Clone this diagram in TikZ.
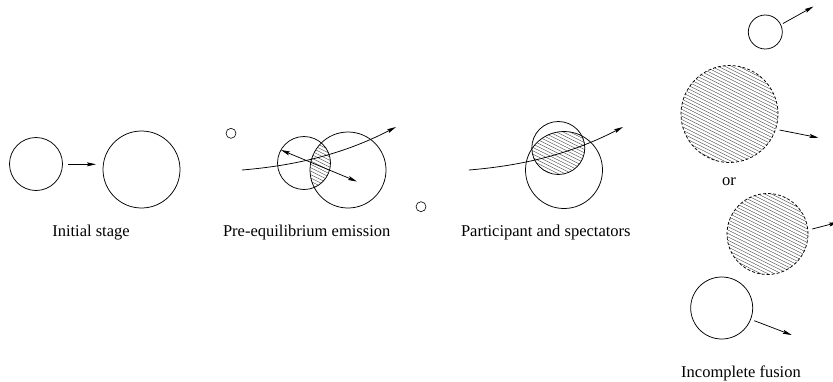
\documentclass[tikz,border=0pt]{standalone}
\usepackage{fontspec}
\setmainfont{Liberation Serif}
\usetikzlibrary{arrows.meta}
\tikzset{
  ring/.style={circle, draw, line width=0.75pt, inner sep=0pt, outer sep=0pt},
  dring/.style={circle, draw, line width=0.75pt, inner sep=0pt, outer sep=0pt, dash pattern=on 3pt off 2pt},
  arr/.style={line width=0.75pt, -{Stealth[length=9pt,width=4pt,inset=1.5pt]}},
  darr/.style={line width=0.75pt, {Stealth[length=9pt,width=4pt,inset=1.5pt]}-{Stealth[length=9pt,width=4pt,inset=1.5pt]}},
  hatchline/.style={line width=0.35pt, black!80},
  lbl/.style={font=\fontsize{16.5}{20}\selectfont, inner sep=0pt}
}
\newcommand{\hatchat}[3]{% cx, cy, R
  \foreach \c in {-110,-106.6,...,110}{
    \draw[hatchline] (#1-#3-10,{#2+\c-0.5*(#3+10)}) -- (#1+#3+10,{#2+\c+0.5*(#3+10)});
  }
}
\begin{document}
\begin{tikzpicture}[x=1pt,y=-1pt]
\useasboundingbox (0,0) rectangle (833,381);
\clip (0,0) rectangle (833,381);

% Stage 1
\node[ring, minimum size=53pt] (s1a) at (36,164) {};
\node[ring, minimum size=77pt] (s1b) at (141.5,169.5) {};
\coordinate (s1p) at (68,164.3);
\coordinate (s1q) at (96,164.3);
\draw[arr] (s1p) -- (s1q);
\node[lbl] (l1) at (91,233) {Initial stage};

% Stage 2
\begin{scope}
  \clip (304,163) circle (26.5);
  \clip (348,170) circle (38);
  \hatchat{326}{163}{30}
\end{scope}
\node[ring, minimum size=53pt] (s2a) at (304,163) {};
\node[ring, minimum size=76pt] (s2b) at (348,170) {};
\node[ring, minimum size=10pt, line width=0.6pt] (s2c) at (231,133.3) {};
\node[ring, minimum size=10pt, line width=0.6pt] (s2d) at (421,206.7) {};
\coordinate (t2s) at (242,170);
\coordinate (t2e) at (396,127);
\draw[arr] (t2s) .. controls (290,166) and (340,156) .. (t2e);
\coordinate (e2a) at (281,150);
\coordinate (e2b) at (357,181.5);
\draw[darr] (e2a) -- (e2b);
\node[lbl] (l2) at (306.7,233) {Pre-equilibrium emission};

% Stage 3
\begin{scope}
  \clip (558.3,148) circle (26.5);
  \clip (564,170) circle (38.5);
  \hatchat{560}{152}{30}
\end{scope}
\node[ring, minimum size=53pt] (s3a) at (558.3,148) {};
\node[ring, minimum size=77pt] (s3b) at (564,170) {};
\coordinate (t3s) at (469,170);
\coordinate (t3e) at (623,127);
\draw[arr] (t3s) .. controls (517,166) and (567,156) .. (t3e);
\node[lbl] (l3) at (545.8,233) {Participant and spectators};

% Stage 4
\node[ring, minimum size=34pt] (s4a) at (765.3,32) {};
\coordinate (a4a) at (813.5,6.5);
\draw[arr] (s4a.30) ++(3,0) coordinate (a4as) (a4as) -- (a4a);

\begin{scope}
  \clip (729.5,114) circle (48.5);
  \hatchat{729.5}{114}{50}
\end{scope}
\node[dring, minimum size=97pt] (s4b) at (729.5,114) {};
\coordinate (a4b) at (818.5,137.7);
\coordinate (a4bs) at (779.5,130);
\draw[arr] (a4bs) -- (a4b);

\node[lbl] (or) at (729,182) {or};

\begin{scope}
  \clip (767.5,234) circle (40.5);
  \hatchat{767.5}{234}{42}
\end{scope}
\node[dring, minimum size=81pt] (s4c) at (767.5,234) {};
\coordinate (a4cs) at (812.3,229);
\coordinate (a4c) at (838,222.3);
\draw[arr] (a4cs) -- (a4c);

\node[ring, minimum size=62pt] (s4d) at (721.7,308) {};
\coordinate (a4ds) at (754.3,320.7);
\coordinate (a4d) at (791.7,335);
\draw[arr] (a4ds) -- (a4d);

\node[lbl, anchor=base] (l4) at (741,377) {Incomplete fusion};
\end{tikzpicture}
\end{document}
